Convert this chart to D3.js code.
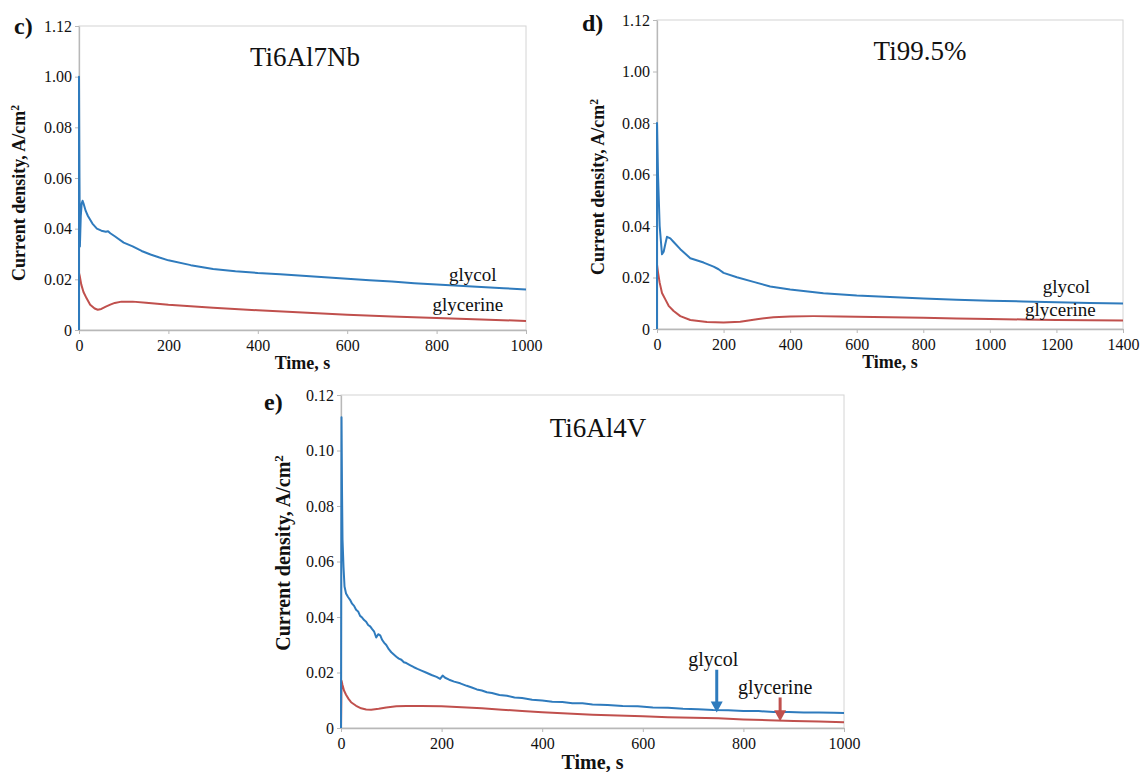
<!DOCTYPE html>
<html>
<head>
<meta charset="utf-8">
<script src="https://cdn.jsdelivr.net/npm/d3@7"></script>
<style>
body{margin:0;background:#fff;}
svg text{font-family:"Liberation Serif","Times New Roman",serif;fill:#111;}
</style>
</head>
<body>
<svg id="container" width="1140" height="772"></svg>
<script>
// ---- data: [time s, current density A/cm2] ----
var yTickVals = [0, 0.02, 0.04, 0.06, 0.08, 0.10, 0.12];
var yLabelsCD = ["0", "0.02", "0.04", "0.06", "0.08", "1.00", "1.12"];  // as printed in the original
var yLabelsE = ["0", "0.02", "0.04", "0.06", "0.08", "0.10", "0.12"];
var xTicks1000 = [0, 200, 400, 600, 800, 1000];
var xTicks1400 = [0, 200, 400, 600, 800, 1000, 1200, 1400];

var cGlycol = [[0,0],[0,0.100],[1,0.060],[2,0.033],[4,0.045],[6,0.050],[8,0.051],[10,0.050],[15,0.047],[20,0.045],
  [30,0.042],[40,0.040],[50,0.0392],[60,0.0388],[65,0.0390],[70,0.0382],[80,0.0370],[100,0.0345],[120,0.0330],
  [140,0.0312],[160,0.0298],[180,0.0286],[200,0.0275],[250,0.0256],[300,0.0241],[350,0.0232],[400,0.0225],
  [450,0.0220],[500,0.0214],[550,0.0208],[600,0.0202],[650,0.0196],[700,0.0191],[750,0.0185],[800,0.0180],
  [850,0.0175],[900,0.0170],[950,0.0165],[1000,0.0160]];
var cGlycerine = [[0,0],[0,0.0225],[2,0.021],[5,0.018],[10,0.015],[17,0.0125],[25,0.0100],[35,0.0085],[42,0.0080],
  [50,0.0083],[60,0.0092],[70,0.0100],[80,0.0107],[95,0.0112],[120,0.0112],[150,0.0108],[200,0.0100],[250,0.0094],
  [300,0.0088],[400,0.0078],[500,0.0069],[600,0.0060],[700,0.0053],[800,0.0047],[900,0.0041],[1000,0.0036]];

var dGlycol = [[0,0],[0,0.080],[3,0.060],[8,0.040],[15,0.029],[20,0.030],[25,0.033],[30,0.0358],[40,0.0352],
  [50,0.0338],[70,0.0310],[100,0.0275],[140,0.0258],[170,0.0242],[185,0.0232],[200,0.0218],[240,0.0201],
  [290,0.0183],[340,0.0165],[400,0.0153],[500,0.0139],[600,0.0130],[700,0.0124],[800,0.0118],[900,0.0114],
  [1000,0.0110],[1100,0.0107],[1200,0.0104],[1300,0.0101],[1400,0.0099]];
var dGlycerine = [[0,0],[0,0.025],[3,0.022],[8,0.018],[15,0.014],[25,0.0115],[35,0.009],[50,0.007],[70,0.005],
  [100,0.0035],[150,0.0027],[200,0.0025],[250,0.0028],[300,0.0038],[350,0.0046],[400,0.0049],[470,0.0050],
  [550,0.0049],[650,0.0047],[800,0.0044],[900,0.0041],[1000,0.0039],[1100,0.0037],[1200,0.0035],[1300,0.0034],
  [1400,0.0033]];

var eGlycol = [[0,0],[1,0.112],[2,0.086],[3,0.068],[5,0.058],[7,0.051],[10,0.0485],[14,0.0472],[18,0.0462],
  [22,0.0448],[26,0.0440],[30,0.0426],[34,0.0420],[38,0.0404],[42,0.0398],[46,0.0389],[50,0.0383],[54,0.0371],
  [58,0.0366],[62,0.0356],[66,0.0347],[70,0.0326],[74,0.0338],[78,0.0334],[82,0.0317],[86,0.0307],[90,0.0299],
  [95,0.0284],[100,0.0273],[105,0.0265],[110,0.0257],[115,0.0250],[120,0.0246],[125,0.0237],[130,0.0234],
  [137,0.0227],[145,0.0219],[152,0.0213],[160,0.0207],[170,0.0199],[180,0.0191],[190,0.0184],[197,0.0177],
  [202,0.0189],[207,0.0181],[215,0.0174],[225,0.0167],[237,0.0161],[250,0.0152],[260,0.0146],[270,0.0139],
  [280,0.0135],[290,0.0129],[300,0.0126],[315,0.0119],[330,0.0116],[345,0.0110],[360,0.0108],[380,0.0102],
  [400,0.0099],[420,0.0095],[440,0.0094],[460,0.0089],[480,0.0089],[500,0.0085],[530,0.0083],[560,0.0079],
  [590,0.0078],[620,0.0074],[650,0.0073],[680,0.0069],[710,0.0068],[740,0.0065],[770,0.0064],[800,0.0061],
  [830,0.0061],[860,0.0058],[890,0.0058],[920,0.0056],[950,0.0056],[980,0.0055],[1000,0.0054]];
var eGlycerine = [[0,0],[1,0.017],[3,0.0155],[6,0.0135],[10,0.012],[15,0.0105],[20,0.0093],[30,0.0080],[40,0.0071],
  [50,0.0067],[60,0.0066],[75,0.0069],[90,0.0074],[110,0.0078],[130,0.0079],[160,0.0079],[200,0.0078],[240,0.0075],
  [280,0.0071],[320,0.0066],[360,0.0061],[400,0.0057],[450,0.0052],[500,0.0048],[550,0.0045],[600,0.0042],
  [650,0.0039],[700,0.0037],[750,0.0035],[800,0.0031],[850,0.0028],[900,0.0025],[950,0.0023],[1000,0.0021]];

// labels placed in data units
var cNotes = [["glycol", 881, 0.0193], ["glycerine", 870, 0.0075]];
var dNotes = [["glycol", 1230, 0.0138], ["glycerine", 1212, 0.0049]];
var eNotes = [["glycol", 740, 0.0224], ["glycerine", 863, 0.0124]];
var eArrows = [[747, 0.0210, 0.0056, "glycol"], [873, 0.0110, 0.0024, "glycerine"]];

var colors = {glycol: "#2f7bbd", glycerine: "#c0504d"};
var serif = '"Liberation Serif","Times New Roman",serif';

var svg = d3.select("#container");

function drawPanel(p) {
	var g = svg.append("g");
	var x = d3.scaleLinear().domain([0, p.xmax]).range([p.left, p.right]);
	var y = d3.scaleLinear().domain([0, 0.12]).range([p.bottom, p.top]);

	g.append("rect")
		.attr("x", p.left).attr("y", p.top)
		.attr("width", p.right - p.left).attr("height", p.bottom - p.top)
		.attr("fill", "none").attr("stroke", "#d4d4d4").attr("stroke-width", 1);

	var gX = g.append("g")
		.attr("transform", "translate(0," + p.bottom + ")")
		.call(d3.axisBottom(x).tickValues(p.xticks).tickSize(4).tickSizeOuter(0).tickPadding(6).tickFormat(d3.format("d")));
	var gY = g.append("g")
		.attr("transform", "translate(" + p.left + ",0)")
		.call(d3.axisLeft(y).tickValues(yTickVals).tickSize(4).tickSizeOuter(0).tickPadding(3)
			.tickFormat(function(d, i) { return p.ylabels[i]; }));
	[gX, gY].forEach(function(a) {
		a.attr("font-family", serif).attr("font-size", 16);
		a.select(".domain").attr("stroke", "#b8b8b8").attr("stroke-width", 1.3);
		a.selectAll(".tick line").attr("stroke", "#b8b8b8");
		a.selectAll(".tick text").style("font-family", serif).style("font-size", "16px").style("fill", "#111");
	});

	var line = d3.line().x(function(d) { return x(d[0]); }).y(function(d) { return y(d[1]); });
	g.append("path").datum(p.glycerine).attr("d", line)
		.attr("fill", "none").attr("stroke", colors.glycerine).attr("stroke-width", 2).attr("stroke-linejoin", "round");
	g.append("path").datum(p.glycol).attr("d", line)
		.attr("fill", "none").attr("stroke", colors.glycol).attr("stroke-width", 2).attr("stroke-linejoin", "round");

	g.selectAll(".note").data(p.notes).enter().append("text")
		.attr("x", function(d) { return x(d[1]); })
		.attr("y", function(d) { return y(d[2]); })
		.attr("text-anchor", "middle").attr("font-size", p.noteSize)
		.text(function(d) { return d[0]; });

	(p.arrows || []).forEach(function(a) {
		var ax = x(a[0]), y0 = y(a[1]), y1 = y(a[2]), c = colors[a[3]];
		g.append("line").attr("x1", ax).attr("x2", ax).attr("y1", y0).attr("y2", y1 - 8)
			.attr("stroke", c).attr("stroke-width", 3);
		g.append("path")
			.attr("d", "M" + (ax - 6) + "," + (y1 - 11) + "L" + (ax + 6) + "," + (y1 - 11) + "L" + ax + "," + y1 + "Z")
			.attr("fill", c);
	});

	g.append("text").attr("x", p.titleX).attr("y", p.titleY)
		.attr("text-anchor", "middle").attr("font-size", 27).text(p.title);
	g.append("text").attr("x", p.tagX).attr("y", p.tagY)
		.attr("font-size", 24).attr("font-weight", "bold").text(p.tag);
	g.append("text").attr("x", (p.left + p.right) / 2).attr("y", p.xlabY)
		.attr("text-anchor", "middle").attr("font-size", p.labSize).attr("font-weight", "bold").text("Time, s");
	var yl = g.append("text")
		.attr("transform", "translate(" + p.ylabX + "," + p.ylabY + ") rotate(-90)")
		.attr("text-anchor", "middle").attr("font-size", p.labSize).attr("font-weight", "bold");
	yl.append("tspan").text("Current density, A/cm");
	yl.append("tspan").attr("baseline-shift", "super").attr("font-size", p.labSize * 0.65).text("2");
}

drawPanel({tag: "c)", tagX: 14, tagY: 34, title: "Ti6Al7Nb", titleX: 305, titleY: 66,
	left: 79, right: 526, top: 26, bottom: 330, xmax: 1000, xticks: xTicks1000, ylabels: yLabelsCD,
	glycol: cGlycol, glycerine: cGlycerine, notes: cNotes, noteSize: 19,
	labSize: 18, xlabY: 369, ylabX: 25, ylabY: 193});

drawPanel({tag: "d)", tagX: 582, tagY: 31, title: "Ti99.5%", titleX: 920, titleY: 60,
	left: 657, right: 1123, top: 20, bottom: 329, xmax: 1400, xticks: xTicks1400, ylabels: yLabelsCD,
	glycol: dGlycol, glycerine: dGlycerine, notes: dNotes, noteSize: 19,
	labSize: 18, xlabY: 368, ylabX: 604, ylabY: 187});

drawPanel({tag: "e)", tagX: 264, tagY: 410, title: "Ti6Al4V", titleX: 598, titleY: 437,
	left: 341, right: 844, top: 395, bottom: 728, xmax: 1000, xticks: xTicks1000, ylabels: yLabelsE,
	glycol: eGlycol, glycerine: eGlycerine, notes: eNotes, noteSize: 20, arrows: eArrows,
	labSize: 20, xlabY: 769, ylabX: 290, ylabY: 553});
</script>
</body>
</html>
